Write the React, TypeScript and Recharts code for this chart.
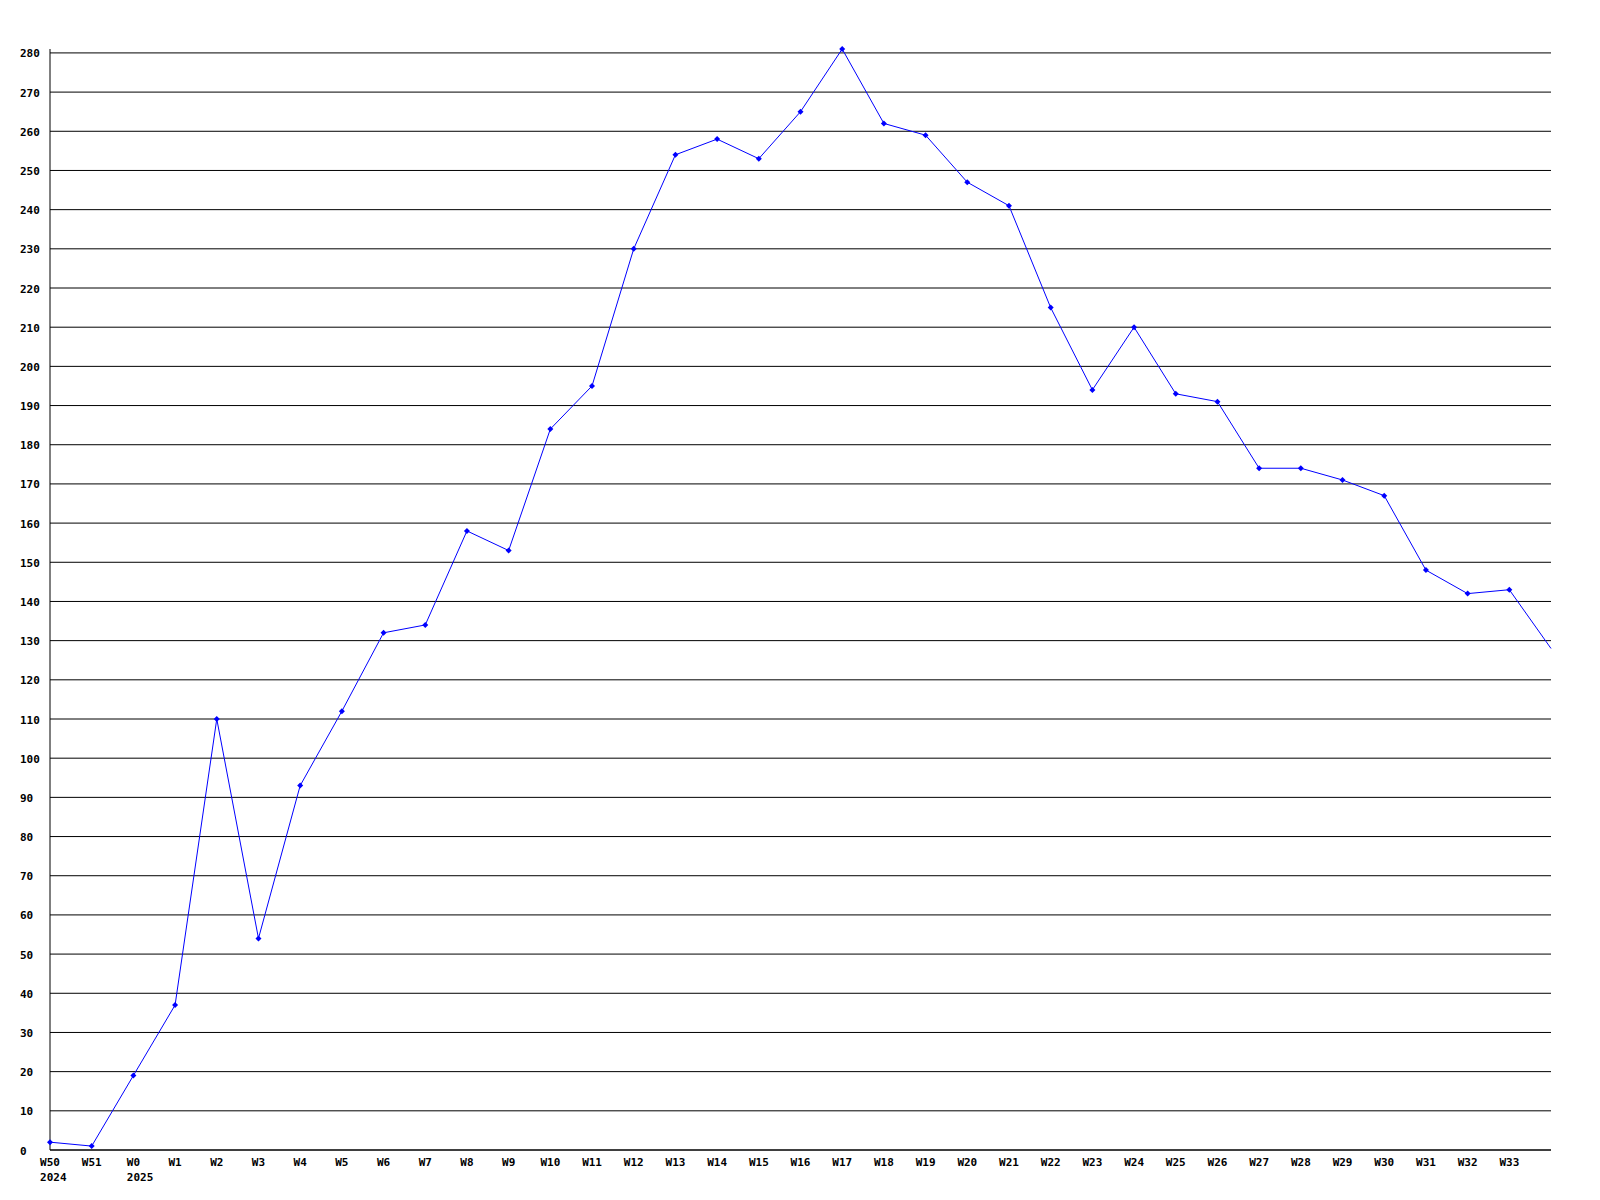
import { LineChart, Line, XAxis, YAxis, CartesianGrid } from "recharts";

const weeks = [
  "W50", "W51", "W0", "W1", "W2", "W3", "W4", "W5", "W6", "W7", "W8", "W9",
  "W10", "W11", "W12", "W13", "W14", "W15", "W16", "W17", "W18", "W19", "W20",
  "W21", "W22", "W23", "W24", "W25", "W26", "W27", "W28", "W29", "W30", "W31",
  "W32", "W33", "W34",
];
const years = ["2024", "", "2025"];
const counts = [
  2, 1, 19, 37, 110, 54, 93, 112, 132, 134, 158, 153,
  184, 195, 230, 254, 258, 253, 265, 281, 262, 259, 247,
  241, 215, 194, 210, 193, 191, 174, 174, 171, 167, 148,
  142, 143, 128,
];
const yTicks = Array.from({ length: 29 }, (_, i) => i * 10);

const data = weeks.map((w, i) => ({ week: w, year: years[i] ?? "", value: counts[i] }));

const FONT = "'DejaVu Sans Mono', monospace";
const CHAR_W = 6.6;

const XTick = (props: any) => {
  const { x, y, payload, index } = props;
  if (index === weeks.length - 1) return null;
  const w = payload.value as string;
  const left = x - (w.length * CHAR_W) / 2;
  const yr = data[index]?.year;
  return (
    <g>
      <text x={left} y={y + 8} fontFamily={FONT} fontSize={11} fontWeight="bold" fill="#000">{w}</text>
      {yr && <text x={left} y={y + 23} fontFamily={FONT} fontSize={11} fontWeight="bold" fill="#000">{yr}</text>}
    </g>
  );
};

const YTick = (props: any) => {
  const { y, payload } = props;
  return (
    <text x={20} y={y + 4.5} textAnchor="start" fontFamily={FONT} fontSize={11} fontWeight="bold" fill="#000">
      {payload.value}
    </text>
  );
};

const Marker = (props: any) => {
  const { cx, cy, index } = props;
  if (index === weeks.length - 1 || cx == null) return <g key={index} />;
  return (
    <path key={index} d={`M${cx},${cy - 3} L${cx + 3},${cy} L${cx},${cy + 3} L${cx - 3},${cy} Z`} fill="#0000ff" />
  );
};

export default function App() {
  return (
    <div style={{ position: "absolute", left: 0, top: 0, background: "#fff" }}>
      <LineChart width={1600} height={1200} data={data} margin={{ top: 49, right: 49, bottom: 10, left: 0 }}>
        <CartesianGrid vertical={false} horizontalValues={yTicks} stroke="#000" strokeWidth={1} />
        <XAxis dataKey="week" interval={0} height={40} tickLine={false} axisLine={{ stroke: "#000" }} tick={<XTick />} />
        <YAxis width={50} domain={[0, 281]} ticks={yTicks} interval={0} tickLine={false} axisLine={{ stroke: "#000" }} tick={<YTick />} />
        <Line type="linear" dataKey="value" stroke="#0000ff" strokeWidth={1} dot={<Marker />} activeDot={false} isAnimationActive={false} />
      </LineChart>
    </div>
  );
}
